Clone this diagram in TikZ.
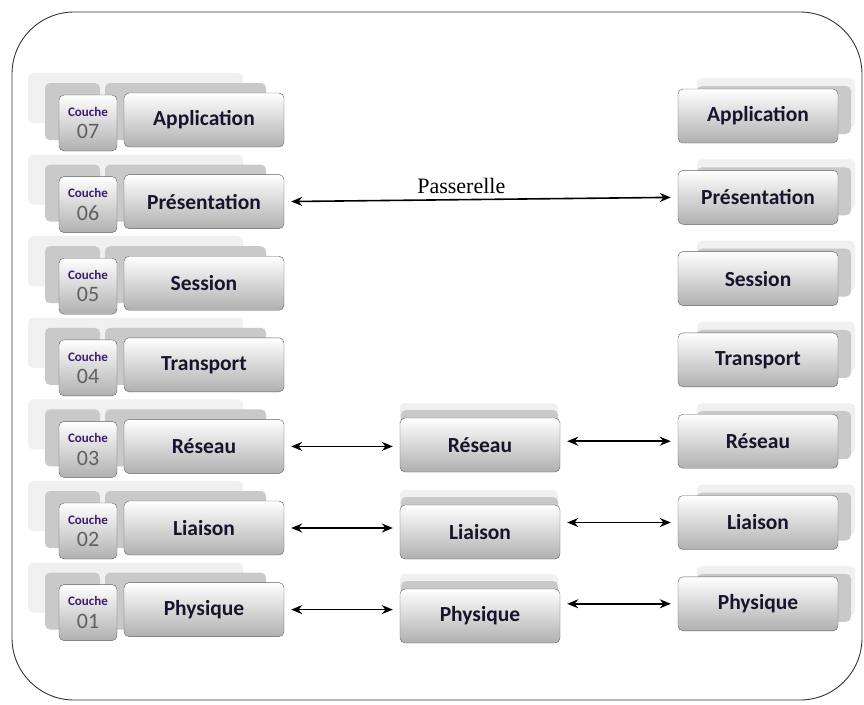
\documentclass[tikz,border=0pt]{standalone}
\usepackage{fontspec}
\setmainfont{Carlito}
\newfontfamily\serifpass{Liberation Serif}
\usetikzlibrary{arrows.meta, positioning}

\definecolor{couchecol}{RGB}{60,30,110}
\definecolor{boxtext}{RGB}{25,20,45}

\tikzset{
  layerbox/.style={draw=gray!75!black, rounded corners=5pt, top color=white, bottom color=gray!62,
    minimum width=160pt, minimum height=54pt, inner sep=0pt, text=boxtext,
    font=\bfseries\fontsize{21.5}{21.5}\selectfont},
  couchebox/.style={draw=gray!75!black, rounded corners=5pt, top color=white, bottom color=gray!62,
    minimum width=58pt, minimum height=56pt, inner sep=0pt, align=center},
  backlight/.style={fill=gray!12, rounded corners=5pt},
  backdark/.style={fill=gray!42, rounded corners=5pt},
  link/.style={{Stealth[length=11pt,width=9pt]}-{Stealth[length=11pt,width=9pt]}, line width=1.6pt,
    shorten <=7pt, shorten >=7pt},
}

\begin{document}
\begin{tikzpicture}[x=1pt, y=-1pt]
  \useasboundingbox (0,0) rectangle (864,704);
  % cadre
  \draw[rounded corners=62pt, line width=0.9pt, black!80] (12,12) rectangle (862,700);

  % pile de gauche
  \foreach \name/\txt/\num [count=\i from 0] in {app/Application/07, pres/Présentation/06,
      ses/Session/05, trans/Transport/04, res/Réseau/03, liai/Liaison/02, phy/Physique/01}{
    \pgfmathsetmacro\yc{120+81.6*\i}
    \fill[backlight] (28,\yc-47) rectangle (243,\yc+3);
    \fill[backdark] (45,\yc-37) rectangle (100,\yc+20);
    \fill[backdark] (105,\yc-37) rectangle (266,\yc+20);
    \node[couchebox] (c\name) at (88,\yc+3)
      {{\bfseries\fontsize{13}{13}\selectfont\color{couchecol}Couche}\\[7pt]
       {\fontsize{22}{22}\selectfont\color{gray!75!black}\num}};
    \node[layerbox] (l\name) at (204,\yc) {\txt};
  }

  % pile de droite
  \foreach \name/\txt [count=\i from 0] in {app/Application, pres/Présentation, ses/Session,
      trans/Transport, res/Réseau, liai/Liaison, phy/Physique}{
    \pgfmathsetmacro\yc{116+81.3*\i}
    \fill[backlight] (697,\yc-38) rectangle (855,\yc+12);
    \fill[backdark] (697,\yc-30) rectangle (851,\yc+18);
    \node[layerbox] (r\name) at (758,\yc) {\txt};
  }

  % passerelle
  \foreach \name/\txt/\yc in {res/Réseau/445, liai/Liaison/532, phy/Physique/616}{
    \fill[backlight] (400,\yc-42) rectangle (558,\yc);
    \fill[backdark] (401,\yc-35) rectangle (558,\yc);
    \node[layerbox] (m\name) at (480,\yc) {\txt};
  }

  \draw[link] (lpres.east) -- (rpres.west)
    node[pos=0.45, above=2pt, font=\serifpass\fontsize{22}{22}\selectfont] {Passerelle};
  \foreach \name in {res, liai, phy}{
    \draw[link] (l\name.east) -- (l\name.east -| m\name.west);
    \draw[link] (m\name.east |- r\name.west) -- (r\name.west);
  }
\end{tikzpicture}
\end{document}
